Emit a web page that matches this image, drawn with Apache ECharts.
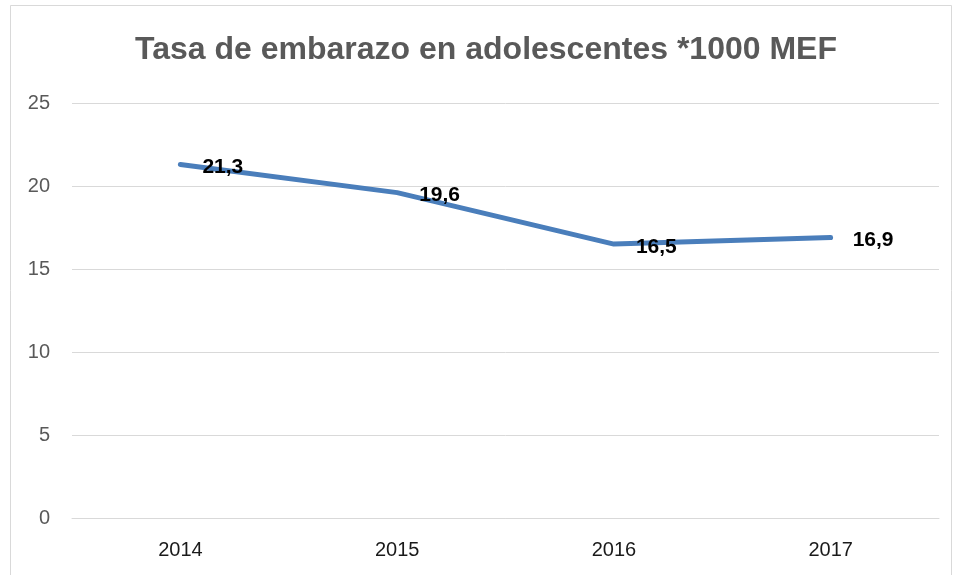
<!DOCTYPE html>
<html>
<head>
<meta charset="utf-8">
<script src="https://cdn.jsdelivr.net/npm/echarts@6/dist/echarts.min.js"></script>
<style>
html,body{margin:0;padding:0;background:#fff;}
#c{width:954px;height:575px;}
</style>
</head>
<body>
<div id="c"></div>
<script>
const titleText = 'Tasa de embarazo en adolescentes *1000 MEF';
const years = ['2014', '2015', '2016', '2017'];
const rates = [21.3, 19.6, 16.5, 16.9];
const yTicks = [0, 5, 10, 15, 20, 25];

const chart = echarts.init(document.getElementById('c'), null, {renderer: 'canvas'});
chart.setOption({
  animation: false,
  backgroundColor: '#ffffff',
  graphic: [
    {
      type: 'rect',
      shape: {x: 10.5, y: 5.5, width: 941, height: 620},
      style: {fill: 'none', stroke: '#d9d9d9', lineWidth: 1},
      silent: true
    },
    {
      type: 'text',
      x: 486,
      y: 50,
      style: {
        text: titleText,
        fontFamily: 'Liberation Sans',
        fontWeight: 'bold',
        fontSize: 32,
        fill: '#595959',
        align: 'center',
        verticalAlign: 'middle'
      }
    }
  ],
  grid: {left: 72, right: 15, top: 103, bottom: 57, containLabel: false},
  xAxis: {
    type: 'category',
    data: years,
    boundaryGap: true,
    axisLine: {show: true, lineStyle: {color: '#d9d9d9', width: 1}},
    axisTick: {show: false},
    axisLabel: {color: '#1a1a1a', fontFamily: 'Liberation Sans', fontSize: 20, margin: 22}
  },
  yAxis: {
    type: 'value',
    min: yTicks[0],
    max: yTicks[yTicks.length - 1],
    interval: 5,
    axisLine: {show: false},
    axisTick: {show: false},
    splitLine: {lineStyle: {color: '#d9d9d9', width: 1}},
    axisLabel: {color: '#595959', fontFamily: 'Liberation Sans', fontSize: 20, margin: 22}
  },
  series: [{
    type: 'line',
    data: rates,
    symbol: 'circle',
    symbolSize: 4,
    showSymbol: true,
    itemStyle: {color: 'rgba(0,0,0,0)', borderWidth: 0},
    lineStyle: {color: '#4a7ebb', width: 5, cap: 'round', join: 'round'},
    label: {
      show: true,
      position: 'right',
      distance: 20,
      offset: [0, 3],
      color: '#000000',
      fontFamily: 'Liberation Sans',
      fontWeight: 'bold',
      fontSize: 21,
      formatter: p => String(p.value).replace('.', ',')
    }
  }]
});
</script>
</body>
</html>
